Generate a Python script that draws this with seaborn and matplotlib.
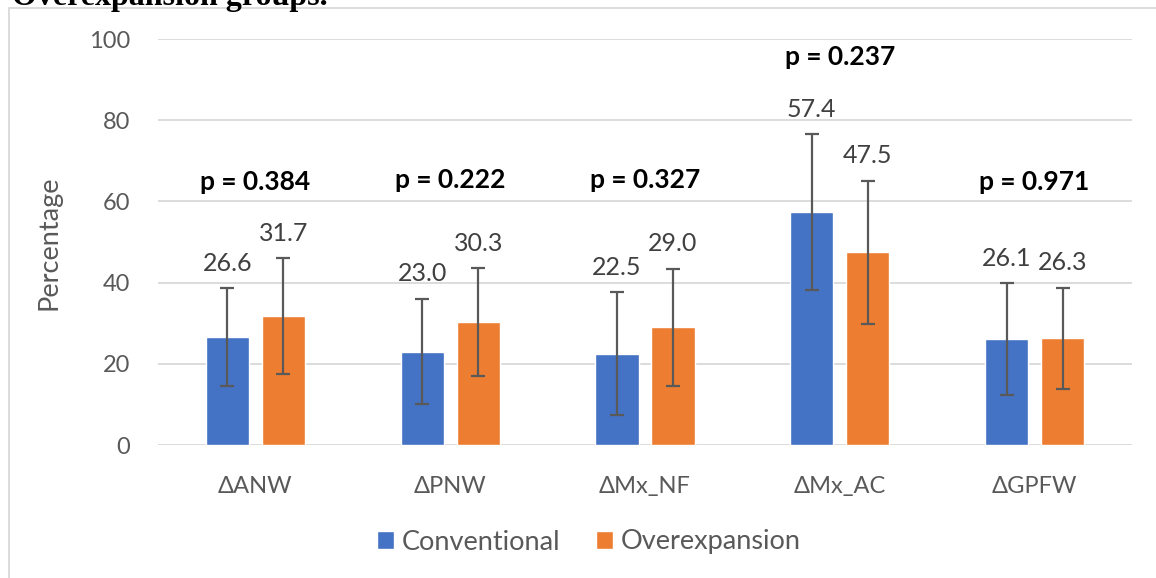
import matplotlib
matplotlib.use("Agg")
import matplotlib.pyplot as plt
from matplotlib.lines import Line2D
import seaborn as sns
import pandas as pd

categories = ["ΔANW", "ΔPNW", "ΔMx_NF", "ΔMx_AC", "ΔGPFW"]
series_names = ["Conventional", "Overexpansion"]
conventional = [26.6, 23.0, 22.5, 57.4, 26.1]
overexpansion = [31.7, 30.3, 29.0, 47.5, 26.3]
conventional_sd = [12.0, 13.0, 15.2, 19.2, 13.7]
overexpansion_sd = [14.3, 13.2, 14.4, 17.6, 12.4]
p_labels = ["p = 0.384", "p = 0.222", "p = 0.327", "p = 0.237", "p = 0.971"]
p_heights = [64.8, 65.3, 65.3, 95.6, 64.8]
y_ticks = [0, 20, 40, 60, 80, 100]

colors = ["#4472C4", "#ED7D31"]
FONT = ["Lato", "DejaVu Sans"]
GRAY = "#595959"

sns.set_theme(style="white")
plt.rcParams["font.family"] = FONT

df = pd.DataFrame({
    "category": categories * 2,
    "series": [series_names[0]] * len(categories) + [series_names[1]] * len(categories),
    "value": conventional + overexpansion,
})

fig = plt.figure(figsize=(11.56, 5.78), dpi=100)
ax = fig.add_axes([158 / 1156, 1 - 445 / 578, (1132 - 158) / 1156, (445 - 39) / 578])

sns.barplot(data=df, x="category", y="value", hue="series", order=categories,
            hue_order=series_names, palette=colors, width=0.576, gap=0.23,
            errorbar=None, saturation=1, ax=ax, zorder=2)

sds = [conventional_sd, overexpansion_sd]
vals = [conventional, overexpansion]
for cont, sd, v in zip(ax.containers, sds, vals):
    xs = [p.get_x() + p.get_width() / 2 for p in cont.patches]
    ax.errorbar(xs, v, yerr=sd, fmt="none", ecolor=GRAY, elinewidth=1.6,
                capsize=5, capthick=1.6, zorder=3)
    for x, val, s in zip(xs, v, sd):
        ax.text(x, val + s + 3.3, f"{val:.1f}", ha="center", va="bottom",
                fontsize=18, color="#404040", family=FONT)

for i, (lab, h) in enumerate(zip(p_labels, p_heights)):
    ax.text(i, h, lab, ha="center", va="center", fontsize=19,
            fontweight="bold", color="black", family=FONT)

ax.set_ylim(0, 100)
ax.set_xlim(-0.5, len(categories) - 0.5)
ax.set_yticks(y_ticks)
ax.yaxis.grid(True, color="#D9D9D9", linewidth=1.3, zorder=0)
ax.set_axisbelow(True)
for s in ax.spines.values():
    s.set_visible(False)
ax.tick_params(axis="y", length=0, pad=20, labelsize=17, labelcolor=GRAY)
ax.tick_params(axis="x", length=0, pad=22, labelsize=17, labelcolor=GRAY)
for t in ax.get_xticklabels() + ax.get_yticklabels():
    t.set_family(FONT)
ax.set_xlabel("")
ax.set_ylabel("Percentage", fontsize=19.5, color=GRAY, family=FONT)
ax.yaxis.set_label_coords(-0.099, 0.4975)

handles, labels = ax.get_legend_handles_labels()
if ax.get_legend() is not None:
    ax.get_legend().remove()
fig.legend(handles, labels, loc="center", bbox_to_anchor=(589 / 1156, 1 - 542 / 578),
           ncol=2, frameon=False, handlelength=0.62, handleheight=0.62,
           handletextpad=0.3, columnspacing=1.3, prop={"family": FONT, "size": 19.5},
           labelcolor=GRAY)

# chart border (top and left visible)
fig.add_artist(Line2D([9 / 1156, 1.0], [1 - 8 / 578, 1 - 8 / 578], color="#D9D9D9", lw=1.3,
                      transform=fig.transFigure))
fig.add_artist(Line2D([9 / 1156, 9 / 1156], [0.0, 1 - 8 / 578], color="#D9D9D9", lw=1.3,
                      transform=fig.transFigure))

# cut-off caption text at the very top (as in the reference)
fig.text(12 / 1156, 1 - 5 / 578, "Overexpansion groups.", ha="left", va="baseline",
         fontsize=23, fontweight="bold", family=["Liberation Serif", "DejaVu Serif"],
         color="black")

fig.savefig("out.png", dpi=100)
